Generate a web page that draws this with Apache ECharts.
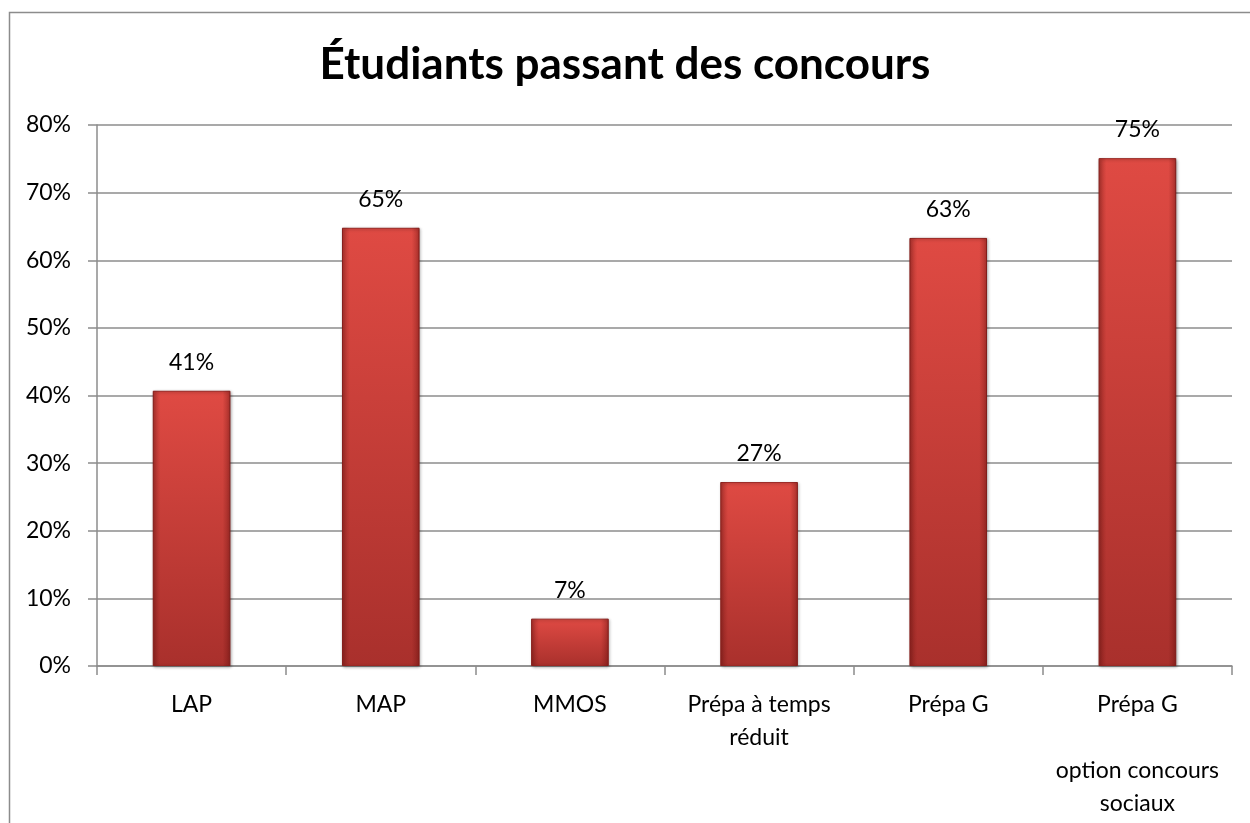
<!DOCTYPE html>
<html><head><meta charset="utf-8">
<script src="https://cdn.jsdelivr.net/npm/echarts@6/dist/echarts.min.js"></script>
<style>html,body{margin:0;padding:0;background:#fff}#c{width:1250px;height:823px}</style>
</head><body><div id="c"></div>
<script>
const title = 'Étudiants passant des concours';
const categories = ['LAP', 'MAP', 'MMOS', 'Prépa à temps\nréduit', 'Prépa G', 'Prépa G\n\noption concours\nsociaux'];
const values = [40.7, 64.8, 7.0, 27.2, 63.3, 75.1];
const yTicks = { min: 0, max: 80, interval: 10 };

const FONT = 'Lato, "Open Sans", sans-serif';
const chart = echarts.init(document.getElementById('c'), null, { renderer: 'canvas' });
chart.setOption({
  backgroundColor: '#fff',
  animation: false,
  graphic: [{
    type: 'rect', shape: { x: 9.5, y: 12.5, width: 1260, height: 830 },
    style: { fill: 'none', stroke: '#8c8c8c', lineWidth: 1.5 }, z: -10
  }],
  title: {
    text: title, left: 'center', top: 38,
    textStyle: { fontFamily: FONT, fontWeight: 'bold', fontSize: 44, color: '#000' }
  },
  grid: { left: 97, right: 18, top: 125, bottom: 157 },
  xAxis: {
    type: 'category', data: categories,
    axisLine: { lineStyle: { color: '#8c8c8c', width: 1.5 } },
    axisTick: { show: true, length: 9, lineStyle: { color: '#8c8c8c', width: 1.5 } },
    axisLabel: { fontFamily: FONT, fontSize: 23, color: '#000', margin: 22, lineHeight: 33, interval: 0 }
  },
  yAxis: {
    type: 'value', min: yTicks.min, max: yTicks.max, interval: yTicks.interval,
    axisLine: { show: true, lineStyle: { color: '#8c8c8c', width: 1.5 } },
    axisTick: { show: true, length: 9, lineStyle: { color: '#8c8c8c', width: 1.5 } },
    splitLine: { lineStyle: { color: '#8c8c8c', width: 1.5 } },
    axisLabel: { fontFamily: FONT, fontSize: 23, color: '#000', margin: 26, formatter: v => v + '%' }
  },
  series: [{
    type: 'bar', data: values, barCategoryGap: '59%',
    itemStyle: {
      color: { type: 'linear', x: 0, y: 0, x2: 0, y2: 1, colorStops: [
        { offset: 0, color: '#df4a43' }, { offset: 1, color: '#a9302c' }] },
      borderColor: '#9a2824', borderWidth: 1,
      shadowColor: 'rgba(0,0,0,0.3)', shadowBlur: 3, shadowOffsetX: 1, shadowOffsetY: 1
    },
    label: {
      show: true, position: 'top', distance: 17,
      fontFamily: FONT, fontSize: 23, color: '#000',
      formatter: p => Math.round(p.value) + '%'
    }
  }, {
    type: 'bar', data: values, barGap: '-100%', silent: true, barCategoryGap: '59%',
    itemStyle: {
      color: { type: 'linear', x: 0, y: 0, x2: 1, y2: 0, colorStops: [
        { offset: 0, color: 'rgba(90,10,8,0.35)' }, { offset: 0.1, color: 'rgba(90,10,8,0.0)' },
        { offset: 0.9, color: 'rgba(90,10,8,0.0)' }, { offset: 1, color: 'rgba(90,10,8,0.4)' }] }
    },
    label: { show: false }
  }]
});
</script></body></html>
